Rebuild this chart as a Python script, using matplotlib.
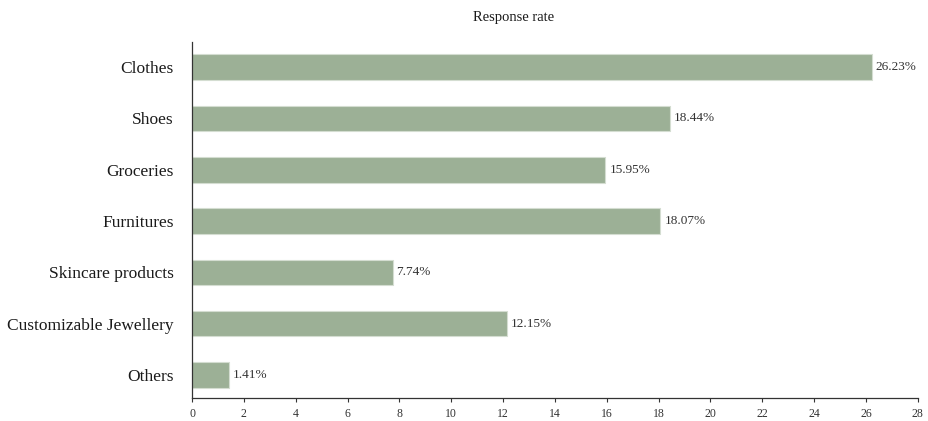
import matplotlib.pyplot as plt
import numpy as np

categories = ['Clothes', 'Shoes', 'Groceries', 'Furnitures', 'Skincare products',
              'Customizable Jewellery', 'Others']
response_rate = [26.23, 18.44, 15.95, 18.07, 7.74, 12.15, 1.41]
x_ticks = list(range(0, 29, 2))

plt.rcParams['font.family'] = ['Liberation Serif', 'DejaVu Serif']

fig = plt.figure(figsize=(9.29, 4.21), dpi=100)
ax = fig.add_axes([0.2067, 0.0546, 0.7813, 0.8456])

y = np.arange(len(categories))
ax.barh(y, response_rate, height=0.5, color='#9cb096', edgecolor='#d4ddd1', linewidth=0.8)

for yi, v in zip(y, response_rate):
    ax.text(v + 0.15, yi, f'{v:.2f}%', va='center', ha='left', fontsize=9.5, color='#333333')

ax.set_yticks(y)
ax.set_yticklabels(categories, fontsize=12.5, color='#1a1a1a')
ax.tick_params(axis='y', length=0, pad=13)
ax.set_xticks(x_ticks)
ax.tick_params(axis='x', labelsize=8.5, length=3, width=0.8, direction='out', colors='#333333', pad=4)
ax.set_xlim(0, 28)
ax.set_ylim(6.45, -0.49)

for side in ['top', 'right']:
    ax.spines[side].set_visible(False)
for side in ['left', 'bottom']:
    ax.spines[side].set_linewidth(0.9)
    ax.spines[side].set_color('#333333')

fig.text(514 / 929, 1 - 17 / 421, 'Response rate', ha='center', va='center', fontsize=10.5, color='#1a1a1a')

fig.savefig('out.png', dpi=100)
